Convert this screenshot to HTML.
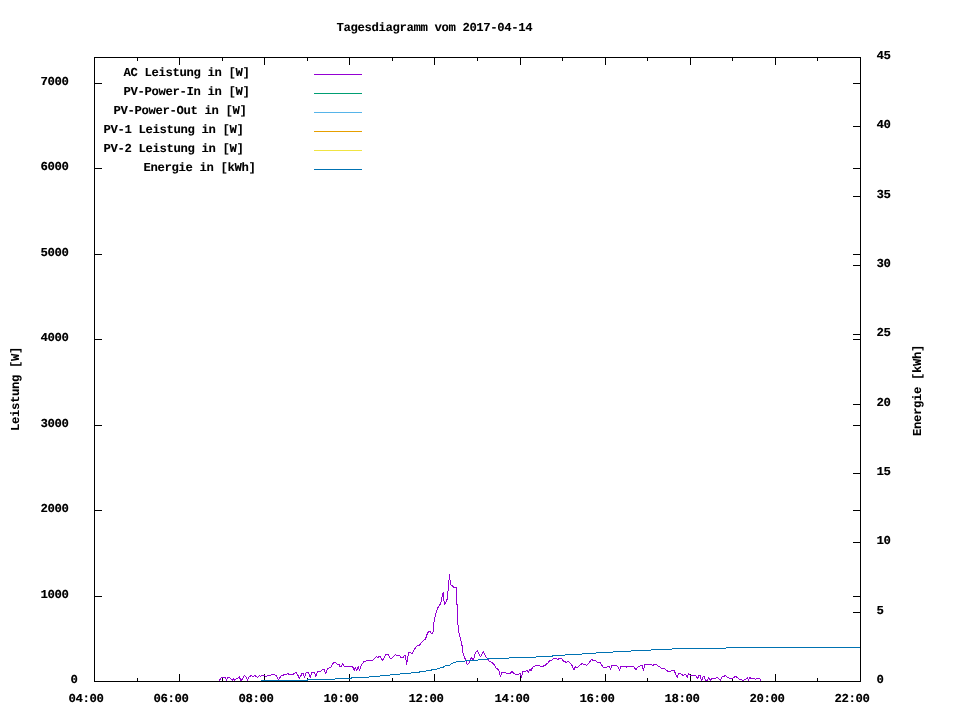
<!DOCTYPE html>
<html><head><meta charset="utf-8"><title>Tagesdiagramm vom 2017-04-14</title>
<style>
html,body{margin:0;padding:0;background:#fff;}
#c{position:relative;width:960px;height:720px;overflow:hidden;background:#fff;}
svg{position:absolute;left:0;top:0;}
#tx{position:absolute;left:0;top:0;width:960px;height:720px;filter:grayscale(1);}
.t{position:absolute;font-family:"Liberation Mono",monospace;font-weight:bold;font-size:12.2px;letter-spacing:-0.32px;text-rendering:geometricPrecision;line-height:15px;height:15px;white-space:pre;color:#000;text-shadow:0.25px 0 0 rgba(0,0,0,.3);}
.d{text-shadow:0.25px 0 0 rgba(0,0,0,.55);}
.r{transform-origin:0 0;transform:rotate(-90deg) translate(0,-9.5px);}
</style></head><body>
<div id="c">
<svg width="960" height="720" viewBox="0 0 960 720" shape-rendering="crispEdges">
<path d="M94,681.5h8 M861,681.5h-8 M94,596.5h8 M861,596.5h-8 M94,510.5h8 M861,510.5h-8 M94,425.5h8 M861,425.5h-8 M94,339.5h8 M861,339.5h-8 M94,254.5h8 M861,254.5h-8 M94,168.5h8 M861,168.5h-8 M94,83.5h8 M861,83.5h-8 M861,681.5h-8 M861,612.5h-8 M861,542.5h-8 M861,473.5h-8 M861,404.5h-8 M861,334.5h-8 M861,265.5h-8 M861,196.5h-8 M861,126.5h-8 M861,57.5h-8 M94.5,682v-8 M94.5,57v8 M137.5,682v-4 M137.5,57v4 M179.5,682v-8 M179.5,57v8 M222.5,682v-4 M222.5,57v4 M264.5,682v-8 M264.5,57v8 M307.5,682v-4 M307.5,57v4 M349.5,682v-8 M349.5,57v8 M392.5,682v-4 M392.5,57v4 M434.5,682v-8 M434.5,57v8 M477.5,682v-4 M477.5,57v4 M520.5,682v-8 M520.5,57v8 M562.5,682v-4 M562.5,57v4 M605.5,682v-8 M605.5,57v8 M647.5,682v-4 M647.5,57v4 M690.5,682v-8 M690.5,57v8 M732.5,682v-4 M732.5,57v4 M775.5,682v-8 M775.5,57v8 M817.5,682v-4 M817.5,57v4 M860.5,682v-8 M860.5,57v8" fill="none" stroke="#000" stroke-width="1"/>
<polyline points="219.50,681.00 219.50,680.50 220.50,678.50 221.50,677.50 225.50,677.50 226.50,680.50 227.50,677.50 229.50,677.50 232.50,680.50 233.50,678.50 234.50,680.50 235.50,679.50 236.50,678.50 237.50,678.50 239.50,676.50 240.50,680.50 241.50,680.50 244.50,675.50 246.50,677.50 247.50,680.50 248.50,677.50 249.50,676.50 251.50,675.50 252.50,676.50 253.50,676.50 254.50,675.50 256.50,676.50 257.50,677.50 259.50,675.50 260.50,676.80 261.50,675.50 264.50,675.50 265.50,676.50 266.50,676.50 267.50,675.50 270.50,675.50 271.50,674.50 274.50,674.50 275.50,675.50 276.10,675.30 278.40,679.50 281.40,675.60 288.10,673.75 289.70,674.60 293.30,674.30 295.60,672.20 297.50,674.30 299.40,678.40 302.20,673.20 303.60,673.20 304.40,678.40 305.70,673.20 308.30,672.20 310.40,677.40 311.70,672.20 314.60,672.20 315.60,676.40 317.70,671.70 320.30,671.50 322.40,669.40 324.50,669.60 325.50,674.30 327.30,668.75 330.70,667.30 333.30,663.10 335.20,662.30 337.50,664.40 339.10,664.60 339.80,666.50 341.50,666.50 342.50,663.30 344.30,666.50 352.60,666.50 354.40,670.60 355.40,666.70 356.60,670.40 358.30,666.50 359.40,670.40 361.50,664.40 364.10,661.50 367.70,660.40 372.40,660.40 376.60,656.25 377.60,657.60 379.70,656.25 382.80,660.40 385.90,654.50 388.50,654.50 390.60,659.20 395.30,654.50 396.40,655.20 399.40,655.30 400.90,657.60 403.00,657.60 404.60,655.00 405.60,655.50 406.50,665.40 408.50,652.40 410.30,652.40 411.90,653.75 416.00,646.70 417.30,645.60 419.20,645.60 423.30,640.40 425.40,639.50 426.50,635.80 427.50,633.20 429.60,631.10 431.70,633.50 432.50,633.20 433.50,630.10 433.75,623.30 434.60,618.60 435.50,614.50 436.60,611.40 437.70,607.90 439.50,605.10 440.70,603.75 441.60,598.30 442.60,595.20 443.30,592.30 443.60,598.30 444.70,604.60 446.25,601.50 447.50,598.30 447.80,591.00 448.50,590.00 448.75,580.60 449.50,579.60 449.50,574.20 449.70,579.60 450.40,580.60 450.60,584.80 452.00,585.30 453.50,587.10 455.10,587.40 456.50,587.40 456.70,604.10 457.50,604.60 457.70,624.90 458.50,625.40 459.00,633.20 459.80,633.75 460.00,637.40 460.60,637.90 460.80,640.00 461.90,644.60 462.90,652.90 467.30,664.40 469.20,662.80 471.25,657.60 472.80,659.70 473.90,658.60 475.40,652.90 477.30,650.30 480.40,657.10 483.40,651.40 486.30,657.30 489.40,661.25 493.50,663.50 496.10,668.00 498.50,669.60 500.50,676.40 501.70,672.20 503.40,672.90 504.70,672.20 506.60,673.50 510.20,673.20 511.80,671.50 513.90,673.50 516.50,674.60 518.50,674.60 520.10,673.20 521.40,677.40 522.70,671.70 525.80,671.10 527.40,670.10 528.40,673.20 529.50,668.75 531.25,671.10 531.80,668.75 533.60,666.50 536.25,665.40 539.40,665.40 540.90,666.50 542.50,666.50 545.10,665.20 548.20,662.80 549.80,660.40 551.40,660.40 554.00,658.10 556.60,658.30 557.60,659.40 560.20,658.10 561.80,658.60 563.30,661.00 565.40,661.80 565.90,663.30 568.00,661.25 569.60,662.30 572.70,666.50 573.70,670.30 575.30,666.80 577.60,667.30 579.90,664.90 582.50,663.50 583.50,664.90 585.10,664.40 586.70,665.40 588.75,663.30 591.40,659.50 592.90,660.20 595.50,660.40 597.60,662.50 600.20,662.80 603.30,667.30 606.50,667.30 608.00,666.25 609.60,666.70 610.40,669.60 611.70,665.90 613.75,665.40 616.40,665.40 617.90,666.50 619.50,670.40 620.50,667.00 623.10,666.50 625.70,666.25 626.80,667.30 628.30,666.25 633.50,666.25 636.10,670.10 637.70,667.00 640.80,665.40 642.40,665.90 643.40,670.40 645.00,664.40 646.60,664.90 648.60,664.20 651.25,664.20 652.80,665.40 654.90,664.20 656.50,664.40 658.00,666.25 659.60,666.50 661.70,668.50 664.20,668.50 666.80,670.60 668.30,671.50 670.40,671.50 672.00,670.40 674.10,670.40 675.60,673.75 677.20,677.40 678.50,673.50 680.30,673.20 682.90,675.30 685.50,674.30 686.60,675.30 687.40,678.40 688.40,673.20 689.70,674.80 691.25,675.30 695.40,675.30 696.50,676.90 697.50,679.00 698.75,675.30 700.10,675.30 701.50,680.80 703.20,676.35 704.30,676.35 705.50,680.80 707.40,680.80 708.40,677.40 710.50,680.50 711.60,678.40 715.20,678.40 716.80,677.40 718.30,678.40 720.40,680.50 722.50,676.35 724.10,676.35 725.40,675.30 727.70,677.70 729.80,678.40 732.40,678.40 735.50,676.35 737.60,677.70 739.20,679.20 741.25,679.50 742.80,680.80 747.00,678.40 747.50,677.40 748.50,680.80 749.60,677.40 751.70,679.00 753.20,678.40 755.80,679.20 757.90,678.40 759.40,678.50 760.60,679.40 760.60,681.25" fill="none" stroke="#9400d3" stroke-width="1" stroke-linejoin="bevel"/>
<polyline points="261.00,680.50 307.80,680.50 307.80,679.50 334.90,679.50 335.40,678.50 351.60,678.50 352.00,677.50 368.75,677.50 369.30,676.50 379.70,676.50 380.20,675.50 389.60,675.50 390.60,674.50 399.40,674.50 400.40,673.50 410.30,673.50 411.40,672.50 419.20,672.50 420.20,671.50 425.40,671.50 426.50,670.50 431.10,670.50 431.70,669.50 436.40,669.50 437.40,668.50 439.50,668.50 440.50,667.50 443.10,667.50 444.20,666.50 445.70,665.50 449.40,665.50 450.40,664.50 453.50,662.50 457.70,661.80 458.75,661.00 465.00,661.00 477.50,660.40 478.50,659.50 487.40,659.50 487.80,658.50 508.60,658.50 509.70,657.50 535.70,657.50 536.80,656.50 551.90,656.50 552.90,655.50 564.40,655.50 565.90,654.50 581.50,654.50 582.50,653.50 595.50,653.50 596.60,652.50 612.70,652.50 613.75,651.50 630.40,651.50 631.50,650.50 650.70,650.50 651.80,649.50 671.50,649.50 672.50,648.50 725.60,648.50 726.70,647.50 860.00,647.50" fill="none" stroke="#0072b2" stroke-width="1"/>
<path d="M94.5,57.5H860.5V681.5H94.5Z" fill="none" stroke="#000" stroke-width="1"/>
<path d="M314,74.5h48" stroke="#9400d3" stroke-width="1" fill="none"/>
<path d="M314,93.5h48" stroke="#009e73" stroke-width="1" fill="none"/>
<path d="M314,112.5h48" stroke="#56b4e9" stroke-width="1" fill="none"/>
<path d="M314,131.5h48" stroke="#e69f00" stroke-width="1" fill="none"/>
<path d="M314,150.5h48" stroke="#f0e442" stroke-width="1" fill="none"/>
<path d="M314,169.5h48" stroke="#0072b2" stroke-width="1" fill="none"/>
</svg>
<div id="tx">
<div class="t " style="left:336.5px;top:21px">Tagesdiagramm vom 2017-04-14</div>
<div class="t " style="left:123.5px;top:66px">AC Leistung in [W]</div>
<div class="t " style="left:123.5px;top:85px">PV-Power-In in [W]</div>
<div class="t " style="left:113.5px;top:104px">PV-Power-Out in [W]</div>
<div class="t " style="left:103.5px;top:123px">PV-1 Leistung in [W]</div>
<div class="t " style="left:103.5px;top:142px">PV-2 Leistung in [W]</div>
<div class="t " style="left:143.5px;top:161px">Energie in [kWh]</div>
<div class="t d" style="left:70.5px;top:673px">0</div>
<div class="t d" style="left:40.5px;top:588px">1000</div>
<div class="t d" style="left:40.5px;top:502px">2000</div>
<div class="t d" style="left:40.5px;top:417px">3000</div>
<div class="t d" style="left:40.5px;top:331px">4000</div>
<div class="t d" style="left:40.5px;top:246px">5000</div>
<div class="t d" style="left:40.5px;top:160px">6000</div>
<div class="t d" style="left:40.5px;top:75px">7000</div>
<div class="t d" style="left:876.5px;top:673px">0</div>
<div class="t d" style="left:876.5px;top:604px">5</div>
<div class="t d" style="left:876.5px;top:534px">10</div>
<div class="t d" style="left:876.5px;top:465px">15</div>
<div class="t d" style="left:876.5px;top:396px">20</div>
<div class="t d" style="left:876.5px;top:326px">25</div>
<div class="t d" style="left:876.5px;top:257px">30</div>
<div class="t d" style="left:876.5px;top:188px">35</div>
<div class="t d" style="left:876.5px;top:118px">40</div>
<div class="t d" style="left:876.5px;top:49px">45</div>
<div class="t d" style="left:68.5px;top:692px">04:00</div>
<div class="t d" style="left:153.5px;top:692px">06:00</div>
<div class="t d" style="left:238.5px;top:692px">08:00</div>
<div class="t d" style="left:323.5px;top:692px">10:00</div>
<div class="t d" style="left:408.5px;top:692px">12:00</div>
<div class="t d" style="left:494.5px;top:692px">14:00</div>
<div class="t d" style="left:579.5px;top:692px">16:00</div>
<div class="t d" style="left:664.5px;top:692px">18:00</div>
<div class="t d" style="left:749.5px;top:692px">20:00</div>
<div class="t d" style="left:834.5px;top:692px">22:00</div>
<div class="t r" style="left:18px;top:430.5px">Leistung [W]</div>
<div class="t r" style="left:920px;top:435.5px">Energie [kWh]</div>
</div>
</div>
</body></html>
